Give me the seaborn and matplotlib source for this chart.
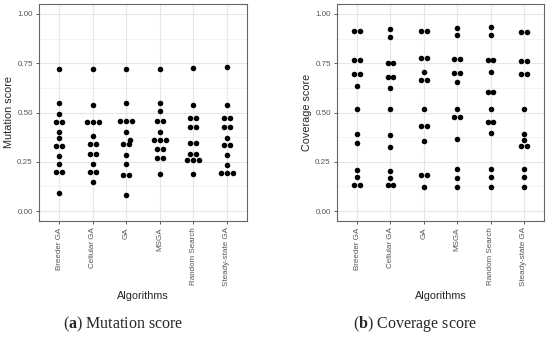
import matplotlib
matplotlib.use('Agg')
import matplotlib.pyplot as plt
from matplotlib.collections import PathCollection
import seaborn as sns
import pandas as pd
import numpy as np

algorithms = ["Breeder GA", "Cellular GA", "GA", "MSGA", "Random Search", "Steady-state GA"]

# mutation score per algorithm (14 programs each)
mut_breeder = [0.72, 0.55, 0.49, 0.45, 0.45, 0.40, 0.37, 0.33, 0.33, 0.28, 0.24, 0.20, 0.20, 0.09]
mut_cellular = [0.72, 0.54, 0.45, 0.45, 0.45, 0.38, 0.34, 0.34, 0.29, 0.29, 0.24, 0.20, 0.20, 0.15]
mut_ga = [0.72, 0.55, 0.455, 0.455, 0.455, 0.40, 0.36, 0.34, 0.34, 0.285, 0.24, 0.185, 0.185, 0.08]
mut_msga = [0.72, 0.55, 0.51, 0.455, 0.455, 0.40, 0.36, 0.36, 0.36, 0.315, 0.315, 0.27, 0.27, 0.19]
mut_random = [0.725, 0.54, 0.47, 0.47, 0.425, 0.425, 0.345, 0.345, 0.29, 0.29, 0.26, 0.26, 0.26, 0.19]
mut_steady = [0.73, 0.54, 0.47, 0.47, 0.425, 0.425, 0.37, 0.335, 0.335, 0.285, 0.235, 0.195, 0.195, 0.195]

# coverage score per algorithm
cov_breeder = [0.915, 0.915, 0.765, 0.765, 0.695, 0.695, 0.635, 0.52, 0.39, 0.345, 0.21, 0.175, 0.135, 0.135]
cov_cellular = [0.925, 0.885, 0.75, 0.75, 0.68, 0.68, 0.625, 0.52, 0.385, 0.325, 0.205, 0.17, 0.135, 0.135]
cov_ga = [0.915, 0.915, 0.775, 0.775, 0.705, 0.665, 0.665, 0.52, 0.43, 0.43, 0.355, 0.185, 0.185, 0.12]
cov_msga = [0.93, 0.895, 0.77, 0.77, 0.70, 0.70, 0.655, 0.52, 0.475, 0.475, 0.365, 0.215, 0.17, 0.12]
cov_random = [0.935, 0.895, 0.765, 0.765, 0.705, 0.605, 0.605, 0.52, 0.45, 0.45, 0.395, 0.215, 0.175, 0.12]
cov_steady = [0.91, 0.91, 0.76, 0.76, 0.695, 0.695, 0.52, 0.39, 0.36, 0.33, 0.33, 0.215, 0.175, 0.12]

mutation = [mut_breeder, mut_cellular, mut_ga, mut_msga, mut_random, mut_steady]
coverage = [cov_breeder, cov_cellular, cov_ga, cov_msga, cov_random, cov_steady]


def to_long(series):
    rows = []
    for alg, vals in zip(algorithms, series):
        for v in vals:
            rows.append({"Algorithms": alg, "score": v})
    return pd.DataFrame(rows)


sns.set_theme(style="white")
plt.rcParams['font.family'] = ['Liberation Sans', 'DejaVu Sans']
plt.rcParams['mathtext.fontset'] = 'custom'
plt.rcParams['mathtext.rm'] = 'Liberation Serif'
plt.rcParams['mathtext.bf'] = 'Liberation Serif:bold'

fig = plt.figure(figsize=(5.5, 3.37), dpi=100)
W, H = 550, 337
ax1 = fig.add_axes([39 / W, 1 - 221 / H, 208 / W, 217 / H])
ax2 = fig.add_axes([337 / W, 1 - 221 / H, 207 / W, 217 / H])


def draw(ax, series, ylabel):
    df = to_long(series)
    sns.swarmplot(data=df, x="Algorithms", y="score", order=algorithms, ax=ax,
                  color="black", size=4.0, linewidth=0, zorder=3)
    ax.set_xlim(-0.6, 5.6)
    ax.set_ylim(-0.05, 1.05)
    ax.set_yticks([0, 0.25, 0.5, 0.75, 1.0])
    ax.set_yticklabels(["0.00", "0.25", "0.50", "0.75", "1.00"])
    ax.set_yticks([0.125, 0.375, 0.625, 0.875], minor=True)
    ax.grid(True, which='major', color='#e6e6e6', linewidth=0.8, zorder=0)
    ax.grid(True, which='minor', axis='y', color='#efefef', linewidth=0.5, zorder=0)
    ax.set_axisbelow(True)
    for s in ax.spines.values():
        s.set_color('#666666')
        s.set_linewidth(0.8)
    ax.tick_params(axis='both', which='major', length=2.5, width=0.6, color='#444444',
                   labelsize=5.8, labelcolor='#555555', pad=2, bottom=True, left=True)
    ax.tick_params(axis='both', which='minor', length=0)
    plt.setp(ax.get_xticklabels(), rotation=90)
    ax.set_xlabel("Algorithms", fontsize=7.8, labelpad=3)
    ax.set_ylabel(ylabel, fontsize=7.8, labelpad=2)


def center_rows(ax):
    # make ties sit symmetric around the category, like a centred dotplot
    for coll in ax.collections:
        if not isinstance(coll, PathCollection):
            continue
        off = coll.get_offsets().copy()
        if len(off) == 0:
            continue
        if 'draw' in coll.__dict__:
            del coll.draw
        cx = np.round(np.median(off[:, 0]))
        for yv in np.unique(np.round(off[:, 1], 4)):
            m = np.abs(off[:, 1] - yv) < 1e-3
            if m.sum() > 1:
                off[m, 0] = off[m, 0] - off[m, 0].mean() + cx
        coll.set_offsets(off)


draw(ax1, mutation, "Mutation score")
draw(ax2, coverage, "Coverage score")

fig.canvas.draw()
center_rows(ax1)
center_rows(ax2)

fig.text(123 / W, 1 - 324 / H, r"($\mathbf{a}$) Mutation score", ha='center', va='center',
         fontsize=11.5, family='Liberation Serif')
fig.text(415 / W, 1 - 324 / H, r"($\mathbf{b}$) Coverage score", ha='center', va='center',
         fontsize=11.5, family='Liberation Serif')

fig.savefig("out.png", dpi=100)
